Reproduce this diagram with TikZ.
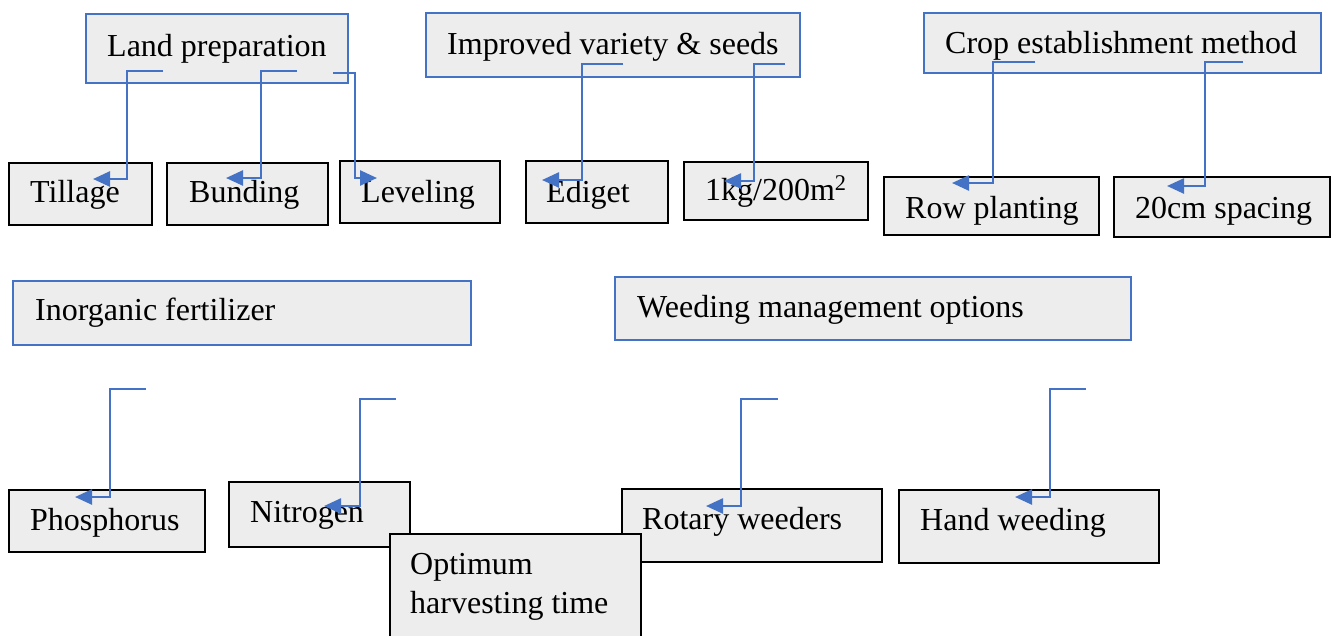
\documentclass[tikz,border=0pt]{standalone}
\usepackage{fontspec}
\setmainfont{Liberation Serif}
\usetikzlibrary{arrows.meta}
\definecolor{bblue}{HTML}{4472C4}
\definecolor{boxfill}{HTML}{EDEDED}
\begin{document}
\begin{tikzpicture}[x=1pt,y=-1pt,
 catbox/.style={draw=bblue, line width=2pt, fill=boxfill, anchor=north west, inner sep=0pt, outer sep=0pt},
 itembox/.style={draw=black, line width=2pt, fill=boxfill, anchor=north west, inner sep=0pt, outer sep=0pt},
 lbl/.style={anchor=base west, inner sep=0pt, font=\fontsize{32}{38}\selectfont},
 conn/.style={draw=bblue, line width=2.5pt, -{Triangle[length=17pt,width=15pt]}}]
\useasboundingbox (0,0) rectangle (1331,635);
% category boxes
\node[catbox, minimum width=262pt, minimum height=69pt] (land) at (86,14) {};
\node[catbox, minimum width=374pt, minimum height=64pt] (impr) at (426,13) {};
\node[catbox, minimum width=397pt, minimum height=60pt] (crop) at (924,13) {};
\node[catbox, minimum width=458pt, minimum height=64pt] (inorg) at (13,281) {};
\node[catbox, minimum width=516pt, minimum height=63pt] (weed) at (615,277) {};
% item boxes
\node[itembox, minimum width=143pt, minimum height=62pt] (till) at (9,163) {};
\node[itembox, minimum width=161pt, minimum height=62pt] (bund) at (167,163) {};
\node[itembox, minimum width=160pt, minimum height=62pt] (levl) at (340,161) {};
\node[itembox, minimum width=142pt, minimum height=62pt] (edig) at (526,161) {};
\node[itembox, minimum width=184pt, minimum height=58pt] (kg) at (684,162) {};
\node[itembox, minimum width=215pt, minimum height=58pt] (row) at (884,177) {};
\node[itembox, minimum width=216pt, minimum height=60pt] (cm) at (1114,177) {};
\node[itembox, minimum width=196pt, minimum height=62pt] (phos) at (9,490) {};
\node[itembox, minimum width=181pt, minimum height=65pt] (nitr) at (229,482) {};
\node[itembox, minimum width=260pt, minimum height=73pt] (rot) at (622,489) {};
\node[itembox, minimum width=260pt, minimum height=73pt] (hand) at (899,490) {};
% labels
\node[lbl] (t-land) at (107,56) {Land preparation};
\node[lbl] (t-impr) at (447,54) {Improved variety \& seeds};
\node[lbl] (t-crop) at (945,53) {Crop establishment method};
\node[lbl] (t-inorg) at (35,320) {Inorganic fertilizer};
\node[lbl] (t-weed) at (637,317) {Weeding management options};
\node[lbl] (t-till) at (30,202) {Tillage};
\node[lbl] (t-bund) at (189,202) {Bunding};
\node[lbl] (t-levl) at (361,202) {Leveling};
\node[lbl] (t-edig) at (546,202) {Ediget};
\node[lbl] (t-kg) at (705,200) {1kg/200m\textsuperscript{2}};
\node[lbl] (t-row) at (905,218) {Row planting};
\node[lbl] (t-cm) at (1135,218) {20cm spacing};
\node[lbl] (t-phos) at (30,530) {Phosphorus};
\node[lbl] (t-nitr) at (250,522) {Nitrogen};
\node[lbl] (t-rot) at (642,529) {Rotary weeders};
\node[lbl] (t-hand) at (920,530) {Hand weeding};
% connectors
\coordinate (s-till) at (163,71);   \coordinate (e-till) at (93,179);
\coordinate (s-bund) at (297,71);   \coordinate (e-bund) at (226,178);
\coordinate (s-levl) at (333,73);   \coordinate (e-levl) at (377,178);
\coordinate (s-edig) at (623,64);   \coordinate (e-edig) at (542,180);
\coordinate (s-kg) at (785,64);     \coordinate (e-kg) at (724,181);
\coordinate (s-row) at (1035,62);   \coordinate (e-row) at (952,183);
\coordinate (s-cm) at (1243,62);    \coordinate (e-cm) at (1167,186);
\coordinate (s-phos) at (146,389);  \coordinate (e-phos) at (75,497);
\coordinate (s-nitr) at (396,399);  \coordinate (e-nitr) at (324,506);
\coordinate (s-rot) at (778,399);   \coordinate (e-rot) at (706,506);
\coordinate (s-hand) at (1086,389); \coordinate (e-hand) at (1015,497);
\draw[conn] (s-till) -- ++(-36,0) |- (e-till);
\draw[conn] (s-bund) -- ++(-36,0) |- (e-bund);
\draw[conn] (s-levl) -- ++(22,0) |- (e-levl);
\draw[conn] (s-edig) -- ++(-41,0) |- (e-edig);
\draw[conn] (s-kg) -- ++(-31,0) |- (e-kg);
\draw[conn] (s-row) -- ++(-42,0) |- (e-row);
\draw[conn] (s-cm) -- ++(-38,0) |- (e-cm);
\draw[conn] (s-phos) -- ++(-36,0) |- (e-phos);
\draw[conn] (s-nitr) -- ++(-36,0) |- (e-nitr);
\draw[conn] (s-rot) -- ++(-37,0) |- (e-rot);
\draw[conn] (s-hand) -- ++(-36,0) |- (e-hand);
% optimum harvesting time box (on top)
\node[itembox, minimum width=251pt, minimum height=111pt] (opt) at (390,534) {};
\node[lbl] (t-opt1) at (410,574) {Optimum};
\node[lbl] (t-opt2) at (410,613) {harvesting time};
\end{tikzpicture}
\end{document}
